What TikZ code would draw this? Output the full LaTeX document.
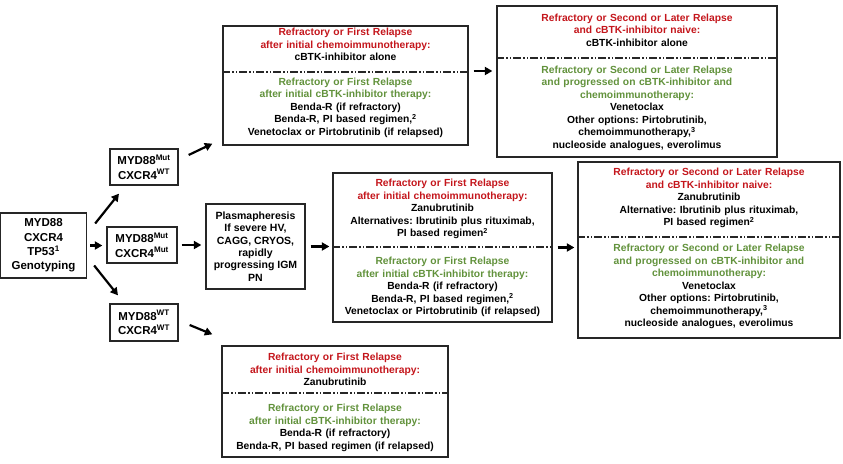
\documentclass[tikz,border=0pt]{standalone}
\usepackage{fontspec}
\setmainfont{Liberation Sans}
\usepackage{tikz}
\usetikzlibrary{arrows.meta, positioning}
\definecolor{relred}{RGB}{196,22,28}
\definecolor{relgreen}{RGB}{98,146,60}
\tikzstyle{arrow} = [line width=2.2pt, -{Triangle[length=7.5pt, width=8pt]}]
\tikzstyle{box} = [draw=black!85, line width=1.3pt, inner sep=0pt]
\tikzstyle{txt} = [align=center, inner sep=0pt, font=\bfseries\fontsize{10.3}{12.5}\selectfont]
\tikzstyle{gene} = [box, align=center, font=\bfseries\fontsize{11.5}{14.3}\selectfont]
\tikzstyle{divider} = [draw=black!85, line width=1.3pt,
  dash pattern=on 8pt off 2pt on 1.5pt off 2pt on 1.5pt off 2pt]
\frenchspacing

\begin{document}
\begin{tikzpicture}[x=1pt, y=-1pt]
    \useasboundingbox (0,0) rectangle (843,463);

    % Genotyping and subgroups
    \node[gene, minimum width=86pt, minimum height=65pt] (geno) at (43.5,245.5)
      {MYD88\\ CXCR4\\ TP53\textsuperscript{1}\\ Genotyping};
    \node[gene, minimum width=68pt, minimum height=36pt] (mw) at (144,167)
      {MYD88\textsuperscript{Mut}\\ CXCR4\textsuperscript{WT}};
    \node[gene, minimum width=70pt, minimum height=36pt] (mm) at (142,245)
      {MYD88\textsuperscript{Mut}\\ CXCR4\textsuperscript{Mut}};
    \node[gene, minimum width=68pt, minimum height=37pt] (ww) at (144,322.5)
      {MYD88\textsuperscript{WT}\\ CXCR4\textsuperscript{WT}};

    % Plasmapheresis
    \node[box, txt, font=\bfseries\fontsize{10.5}{12.3}\selectfont,
          minimum width=99pt, minimum height=85pt] (plasma) at (255.5,246.5)
      {Plasmapheresis\\ If severe HV,\\ CAGG, CRYOS,\\ rapidly\\ progressing IGM\\ PN};

    % Top row (MYD88 mut, CXCR4 wt)
    \node[box, minimum width=245pt, minimum height=119pt] (t1) at (345.5,85.5) {};
    \node[txt, text width=240pt] (t1a) at (345.5,44.7)
      {{\color{relred}Refractory or First Relapse\\ after initial chemoimmunotherapy:}\\
       cBTK-inhibitor alone};
    \node[txt, text width=240pt] (t1b) at (345.5,107.5)
      {{\color{relgreen}Refractory or First Relapse\\ after initial cBTK-inhibitor therapy:}\\
       Benda-R (if refractory)\\ Benda-R, PI based regimen,\textsuperscript{2}\\
       Venetoclax or Pirtobrutinib (if relapsed)};
    \draw[divider] (t1.west |- 0,72) -- (t1.east |- 0,72);

    \node[box, minimum width=280pt, minimum height=151pt] (t2) at (637,81.5) {};
    \node[txt, text width=275pt] (t2a) at (637,30.3)
      {{\color{relred}Refractory or Second or Later Relapse\\ and cBTK-inhibitor naive:}\\
       cBTK-inhibitor alone};
    \node[txt, text width=275pt] (t2b) at (637,108)
      {{\color{relgreen}Refractory or Second or Later Relapse\\ and progressed on cBTK-inhibitor and\\
       chemoimmunotherapy:}\\ Venetoclax\\ Other options: Pirtobrutinib,\\
       chemoimmunotherapy,\textsuperscript{3}\\ nucleoside analogues, everolimus};
    \draw[divider] (t2.west |- 0,58) -- (t2.east |- 0,58);

    % Middle row (MYD88 mut, CXCR4 mut)
    \node[box, minimum width=219pt, minimum height=149pt] (m1) at (442.5,247.5) {};
    \node[txt, text width=214pt] (m1a) at (442.5,209.3)
      {{\color{relred}Refractory or First Relapse\\ after initial chemoimmunotherapy:}\\
       Zanubrutinib\\ Alternatives: Ibrutinib plus rituximab,\\
       PI based regimen\textsuperscript{2}};
    \node[txt, text width=214pt] (m1b) at (442.5,287)
      {{\color{relgreen}Refractory or First Relapse\\ after initial cBTK-inhibitor therapy:}\\
       Benda-R (if refractory)\\ Benda-R, PI based regimen,\textsuperscript{2}\\
       Venetoclax or Pirtobrutinib (if relapsed)};
    \draw[divider] (m1.west |- 0,247) -- (m1.east |- 0,247);

    \node[box, minimum width=262pt, minimum height=176pt] (m2) at (709,250) {};
    \node[txt, text width=257pt] (m2a) at (709,198)
      {{\color{relred}Refractory or Second or Later Relapse\\ and cBTK-inhibitor naive:}\\
       Zanubrutinib\\ Alternative: Ibrutinib plus rituximab,\\
       PI based regimen\textsuperscript{2}};
    \node[txt, text width=257pt] (m2b) at (709,286.8)
      {{\color{relgreen}Refractory or Second or Later Relapse\\ and progressed on cBTK-inhibitor and\\
       chemoimmunotherapy:}\\ Venetoclax\\ Other options: Pirtobrutinib,\\
       chemoimmunotherapy,\textsuperscript{3}\\ nucleoside analogues, everolimus};
    \draw[divider] (m2.west |- 0,237) -- (m2.east |- 0,237);

    % Bottom row (MYD88 wt, CXCR4 wt)
    \node[box, minimum width=226pt, minimum height=111pt] (b1) at (335,401.5) {};
    \node[txt, text width=221pt] (b1a) at (335,369.7)
      {{\color{relred}Refractory or First Relapse\\ after initial chemoimmunotherapy:}\\
       Zanubrutinib};
    \node[txt, text width=221pt] (b1b) at (335,428)
      {{\color{relgreen}Refractory or First Relapse\\ after initial cBTK-inhibitor therapy:}\\
       Benda-R (if refractory)\\ Benda-R, PI based regimen (if relapsed)};
    \draw[divider] (b1.west |- 0,393) -- (b1.east |- 0,393);

    % Arrows
    \draw[arrow] ([shift={(8,-22)}]geno.east) -- ([shift={(-25,8)}]mw.south);
    \draw[arrow, shorten <=3pt, shorten >=4pt] (geno.east) -- (geno.east -| mm.west);
    \draw[arrow] ([shift={(7,20)}]geno.east) -- ([shift={(-26,-8)}]ww.north);
    \draw[arrow] ([shift={(10,-12)}]mw.east) -- ([shift={(-10,-2)}]t1.south west);
    \draw[arrow] ([shift={(11,2.5)}]ww.east) -- ([shift={(-9,-11)}]b1.north west);
    \draw[arrow, shorten <=4pt, shorten >=4pt] (mm.east) -- (mm.east -| plasma.west);
    \draw[arrow, shorten <=5pt, shorten >=3pt] (plasma.east) -- (plasma.east -| m1.west);
    \draw[arrow, shorten <=5pt, shorten >=3pt] (m1.east) -- (m1.east -| m2.west);
    \draw[arrow, shorten <=5pt, shorten >=4pt] (t1.east |- 0,71) -- (t2.west |- 0,71);
\end{tikzpicture}
\end{document}
